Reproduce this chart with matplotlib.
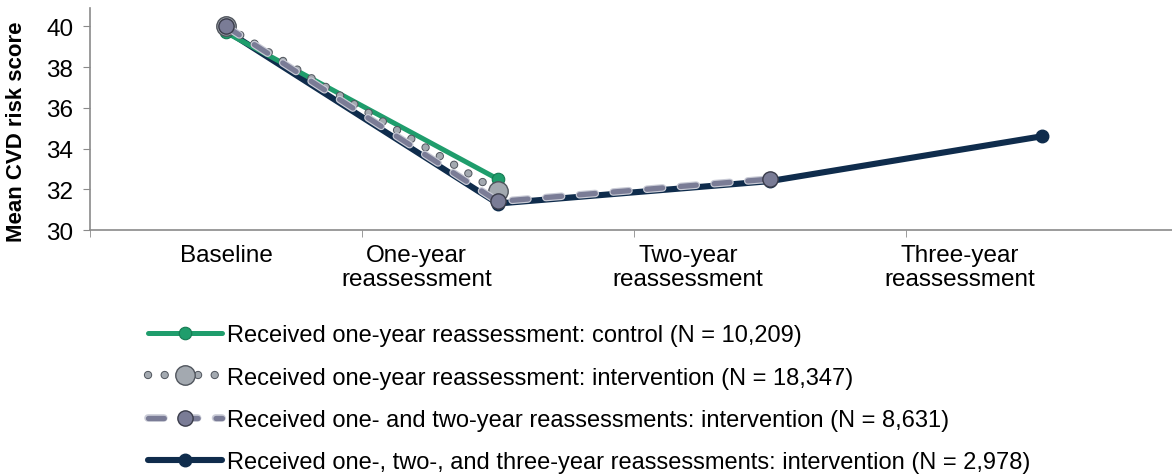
import matplotlib
matplotlib.use("Agg")
import matplotlib.pyplot as plt
import matplotlib.patheffects as pe

# Mean CVD risk score at each assessment, by reassessment group
categories = ["Baseline", "One-year\nreassessment", "Two-year\nreassessment", "Three-year\nreassessment"]
control_1y = [39.7, 32.5]
interv_1y = [40.0, 31.9]
interv_2y = [40.0, 31.4, 32.5]
interv_3y = [39.8, 31.3, 32.4, 34.6]

labels = [
    "Received one-year reassessment: control (N = 10,209)",
    "Received one-year reassessment: intervention (N = 18,347)",
    "Received one- and two-year reassessments: intervention (N = 8,631)",
    "Received one-, two-, and three-year reassessments: intervention (N = 2,978)",
]

GREEN = "#1f9d6c"
LIGHT = "#a3a9b0"
SLATE = "#7a7c96"
NAVY = "#0f2c4c"
FS = 17.5

plt.rcParams["font.family"] = ["Liberation Sans", "DejaVu Sans"]

fig = plt.figure(figsize=(11.72, 4.77), dpi=100)
ax = fig.add_axes([0.0768, 0.5157, 0.928, 0.4654])

edge = [pe.Stroke(linewidth=6.0, foreground="#50555d"), pe.Normal()]
halo = [pe.Stroke(linewidth=5.5, foreground="#c9cbd6"), pe.Normal()]

h4, = ax.plot(range(len(interv_3y)), interv_3y, color=NAVY, lw=4.4,
              marker="o", ms=9, mfc=NAVY, mec=NAVY, solid_capstyle="round", zorder=2)
h1, = ax.plot(range(len(control_1y)), control_1y, color=GREEN, lw=3.6,
              marker="o", ms=9, mfc=GREEN, mec="#157a52", mew=0.8,
              solid_capstyle="round", zorder=3)

# round-dot line with outlined dots, markers drawn separately so they keep a thin edge
dots, = ax.plot(range(len(interv_1y)), interv_1y, color=LIGHT, lw=4.6,
                linestyle=(0, (0.01, 2.6)), dash_capstyle="round",
                path_effects=edge, zorder=4)
dots_m, = ax.plot(range(len(interv_1y)), interv_1y, ls="none",
                  marker="o", ms=14, mfc=LIGHT, mec="#50555d", mew=1.0, zorder=4.5)

h3, = ax.plot(range(len(interv_2y)), interv_2y, color=SLATE, lw=3.8,
              linestyle=(0, (3.0, 3.4)), dash_capstyle="round",
              path_effects=halo, zorder=5)
h3_m, = ax.plot(range(len(interv_2y)), interv_2y, ls="none",
                marker="o", ms=11, mfc=SLATE, mec="#3a3c4a", mew=1.0, zorder=5.5)

ax.set_xlim(-0.5, 3.5)
ax.set_ylim(30, 40.9)
ax.set_yticks([30, 32, 34, 36, 38, 40])
ax.tick_params(axis="y", labelsize=FS, length=5, color="#8a8a8a", pad=7)

# category labels sit left of the point columns; boundary marks as minor ticks
ax.set_xticks([0, 0.7, 1.7, 2.7])
ax.set_xticklabels(categories, fontsize=FS, linespacing=1.1)
ax.tick_params(axis="x", which="major", length=0, pad=10)
ax.set_xticks([-0.5, 0.5, 1.5, 2.5], minor=True)
ax.tick_params(axis="x", which="minor", length=5, color="#8a8a8a")

for s in ["top", "right"]:
    ax.spines[s].set_visible(False)
for s in ["left", "bottom"]:
    ax.spines[s].set_color("#8a8a8a")
    ax.spines[s].set_linewidth(1.2)

ax.set_ylabel("Mean CVD risk score", fontsize=16, fontweight="bold")
ax.yaxis.set_label_coords(-0.058, 0.446)

fig.legend([h1, (dots, dots_m), (h3, h3_m), h4], labels, loc="upper left",
           bbox_to_anchor=(0.1263, 0.318), frameon=False, fontsize=17,
           handlelength=3.15, handletextpad=0.2, labelspacing=0.86,
           borderpad=0, borderaxespad=0)

fig.savefig("out.png", dpi=100)
